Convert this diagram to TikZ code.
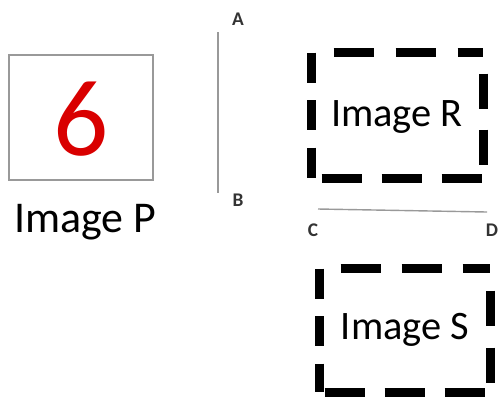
\documentclass[tikz,border=0pt]{standalone}
\usepackage{fontspec}
\setmainfont{Carlito}
\usepackage{tikz}

\tikzset{
    imgbox/.style={draw=gray!80, line width=1pt, inner sep=0pt},
    caption/.style={font=\fontsize{25}{25}\selectfont, inner sep=0pt},
    endlabel/.style={font=\fontsize{11}{11}\selectfont\bfseries, text=black!80, inner sep=0pt},
    segline/.style={gray!80, line width=0.8pt},
    thickdash/.style={line width=0.18cm, line cap=butt},
}

\begin{document}
\begin{tikzpicture}[x=0.02cm, y=-0.02cm]
    \useasboundingbox (0, 0) rectangle (499, 400);

    % image P with the red digit
    \node[imgbox, minimum width=2.88cm, minimum height=2.5cm] (boxP) at (81, 117.5) {};
    \node[text=red!85!black, font=\fontsize{62}{62}\selectfont, inner sep=0pt] (six) at (81, 119) {6};
    \node[caption, anchor=base] (capP) at (85, 232) {Image P};

    % segment AB
    \coordinate (a) at (218, 32);
    \coordinate (b) at (218, 193);
    \draw[segline] (a) -- (b);
    \node[endlabel] (labA) at (238, 19) {A};
    \node[endlabel] (labB) at (238, 200) {B};

    % segment CD
    \coordinate (c) at (318, 209);
    \coordinate (d) at (487, 212);
    \draw[segline] (c) -- (d);
    \node[endlabel] (labC) at (313, 230) {C};
    \node[endlabel] (labD) at (492, 230) {D};

    % image R, dashed frame
    \node[minimum width=3.42cm, minimum height=2.5cm, inner sep=0pt] (boxR) at (397.5, 115.5) {};
    \node[caption, font=\fontsize{23}{23}\selectfont] (capR) at (397, 117) {Image R};
    \draw[thickdash, dash pattern=on 0.6cm off 0.35cm] (boxR.north west) -- (boxR.south west);
    \draw[thickdash, dash pattern=on 0.8cm off 0.44cm, dash phase=0.8cm] (boxR.north west) -- (boxR.north east);
    \draw[thickdash, dash pattern=on 0.7cm off 0.42cm, dash phase=0.7cm] (boxR.north east) -- (boxR.south east);
    \draw[thickdash, dash pattern=on 0.8cm off 0.4cm, dash phase=1.0cm] (boxR.south west) -- (boxR.south east);

    % image S, dashed frame
    \node[minimum width=3.4cm, minimum height=2.46cm, inner sep=0pt] (boxS) at (405, 330.5) {};
    \node[caption, font=\fontsize{23}{23}\selectfont] (capS) at (405, 330) {Image S};
    \draw[thickdash, dash pattern=on 0.6cm off 0.35cm] (boxS.north west) -- (boxS.south west);
    \draw[thickdash, dash pattern=on 0.8cm off 0.42cm, dash phase=0.8cm] (boxS.north west) -- (boxS.north east);
    \draw[thickdash, dash pattern=on 0.7cm off 0.44cm, dash phase=0.7cm] (boxS.north east) -- (boxS.south east);
    \draw[thickdash, dash pattern=on 0.8cm off 0.4cm, dash phase=1.1cm] (boxS.south west) -- (boxS.south east);
\end{tikzpicture}
\end{document}
